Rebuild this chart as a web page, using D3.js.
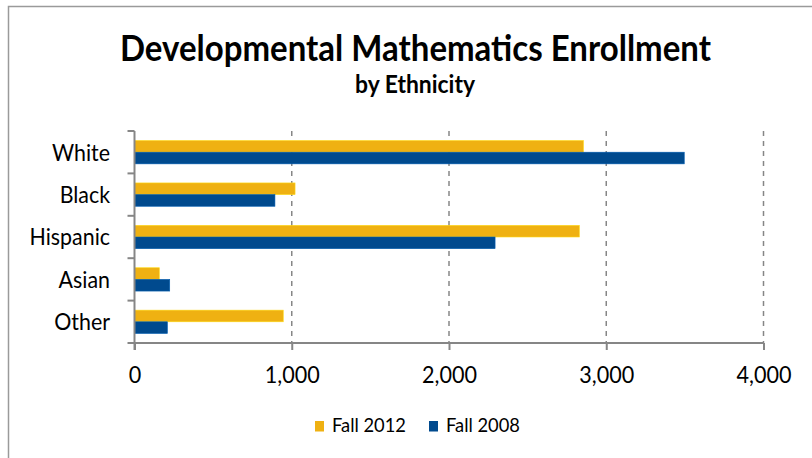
<!DOCTYPE html>
<html>
<head>
<meta charset="utf-8">
<script src="https://cdn.jsdelivr.net/npm/d3@7/dist/d3.min.js"></script>
<style>
  html, body { margin: 0; padding: 0; background: #fff; }
  svg { display: block; }
  text { font-family: Lato, "Open Sans", "Noto Sans", sans-serif; fill: #000; }
</style>
</head>
<body>
<svg id="chart" width="812" height="458"></svg>
<script>
// Enrollment counts by ethnicity, developmental mathematics
const categories = ["White", "Black", "Hispanic", "Asian", "Other"];
const seriesNames = ["Fall 2012", "Fall 2008"];
const fall2012 = [2855, 1021, 2829, 158, 946];
const fall2008 = [3496, 893, 2293, 224, 209];
const xTicks = [0, 1000, 2000, 3000, 4000];
const seriesColors = ["#EFB112", "#004A8E"];

const titleText = "Developmental Mathematics Enrollment";
const subtitleText = "by Ethnicity";

const svg = d3.select("#chart");

// Width of a string at 100px in the given weight
function widthAt100(str, weight) {
  const t = svg.append("text").attr("font-weight", weight)
    .style("font-size", "100px").text(str);
  const w = t.node().getComputedTextLength();
  t.remove();
  return w;
}
// Font size that makes a string span a given width
function sizeFor(str, weight, width) {
  return 100 * width / widthAt100(str, weight);
}
// Slightly taller, narrower type: enlarge, then squeeze back to width
function condensed(sel, str, weight, size, grow) {
  const s = size * grow;
  const w = widthAt100(str, weight) * s / 100 / grow * 1.0;
  sel.style("font-size", s + "px")
    .attr("textLength", widthAt100(str, weight) * size / 100)
    .attr("lengthAdjust", "spacingAndGlyphs");
}

// Outer chart frame
svg.append("rect")
  .attr("x", 8.5).attr("y", 6.5)
  .attr("width", 840).attr("height", 480)
  .attr("fill", "#fff")
  .attr("stroke", "#9a9a9a")
  .attr("stroke-width", 1.5);

// Title block
const title = svg.append("text")
  .attr("x", 415.5).attr("y", 61)
  .attr("text-anchor", "middle")
  .attr("font-weight", 700)
  .text(titleText);
condensed(title, titleText, 700, sizeFor(titleText, 700, 591), 1.07);

const subtitle = svg.append("text")
  .attr("x", 415).attr("y", 93)
  .attr("text-anchor", "middle")
  .attr("font-weight", 700)
  .text(subtitleText);
condensed(subtitle, subtitleText, 700, sizeFor(subtitleText, 700, 120), 1.07);

// Scales
const x = d3.scaleLinear().domain([0, 4000]).range([134.5, 763.5]);
const y = d3.scaleBand().domain(categories).range([131, 343])
  .paddingInner(0.45).paddingOuter(0.225);
const ySub = d3.scaleBand().domain(seriesNames).range([0, y.bandwidth()]);
const color = d3.scaleOrdinal().domain(seriesNames).range(seriesColors);

const axisColor = "#868686";

// Dashed vertical gridlines
svg.append("g")
  .selectAll("line")
  .data(xTicks.filter(d => d > 0))
  .join("line")
  .attr("x1", d => x(d)).attr("x2", d => x(d))
  .attr("y1", 131).attr("y2", 343)
  .attr("stroke", axisColor)
  .attr("stroke-width", 1.5)
  .attr("stroke-dasharray", "5,5");

// Bars
const rows = categories.map((c, i) => ({
  category: c,
  values: [
    { series: seriesNames[0], value: fall2012[i] },
    { series: seriesNames[1], value: fall2008[i] }
  ]
}));

svg.append("g")
  .selectAll("g")
  .data(rows)
  .join("g")
  .attr("transform", d => `translate(0,${y(d.category)})`)
  .selectAll("rect")
  .data(d => d.values)
  .join("rect")
  .attr("x", x(0))
  .attr("y", d => ySub(d.series))
  .attr("width", d => x(d.value) - x(0))
  .attr("height", ySub.bandwidth())
  .attr("fill", d => color(d.series))
  .attr("stroke", d => d3.color(color(d.series)).brighter(0.6))
  .attr("stroke-width", 0.6);

// X axis
const tickSize = sizeFor("1,000", 400, 55);
const xAxis = svg.append("g")
  .attr("transform", "translate(0,343)")
  .call(d3.axisBottom(x).tickValues(xTicks).tickSize(7).tickPadding(0)
    .tickFormat(d3.format(",")));
xAxis.select(".domain").attr("stroke", axisColor).attr("stroke-width", 2)
  .attr("d", `M${x(0)},0H${x(4000)}`);
xAxis.selectAll(".tick line").attr("stroke", axisColor).attr("stroke-width", 2);
xAxis.selectAll(".tick text")
  .attr("y", 40).attr("dy", null)
  .style("font-family", "Lato, 'Open Sans', sans-serif")
  .attr("fill", "#000")
  .each(function(d) {
    const s = d3.format(",")(d);
    condensed(d3.select(this), s, 400, tickSize, 1.1);
  });

// Y axis with ticks at category boundaries
const yAxisG = svg.append("g");
yAxisG.append("line")
  .attr("x1", x(0)).attr("x2", x(0))
  .attr("y1", 131).attr("y2", 350)
  .attr("stroke", axisColor).attr("stroke-width", 2);
const boundaries = categories.map(c => y(c) - y.step() * y.paddingInner() / 2)
  .concat([343]);
yAxisG.selectAll("line.tk")
  .data(boundaries)
  .join("line")
  .attr("class", "tk")
  .attr("x1", x(0) - 7).attr("x2", x(0))
  .attr("y1", d => d).attr("y2", d => d)
  .attr("stroke", axisColor).attr("stroke-width", 2);

const catSize = sizeFor("White", 400, 58);
yAxisG.selectAll("text")
  .data(categories)
  .join("text")
  .attr("x", 110)
  .attr("y", d => y(d) + y.bandwidth() / 2)
  .attr("dy", "0.36em")
  .attr("text-anchor", "end")
  .text(d => d)
  .each(function(d) {
    condensed(d3.select(this), d, 400, catSize, 1.1);
  });

// Legend
const legSize = sizeFor("Fall 2012", 400, 74);
const legendX = [315, 429];
const legend = svg.append("g")
  .selectAll("g")
  .data(seriesNames)
  .join("g")
  .attr("transform", (d, i) => `translate(${legendX[i]},421)`);
legend.append("rect")
  .attr("width", 9).attr("height", 10.5)
  .attr("fill", d => color(d));
legend.append("text")
  .attr("x", 17).attr("y", 10.7)
  .style("font-size", legSize + "px")
  .attr("fill", "#1a1a1a")
  .text(d => d);
</script>
</body>
</html>
